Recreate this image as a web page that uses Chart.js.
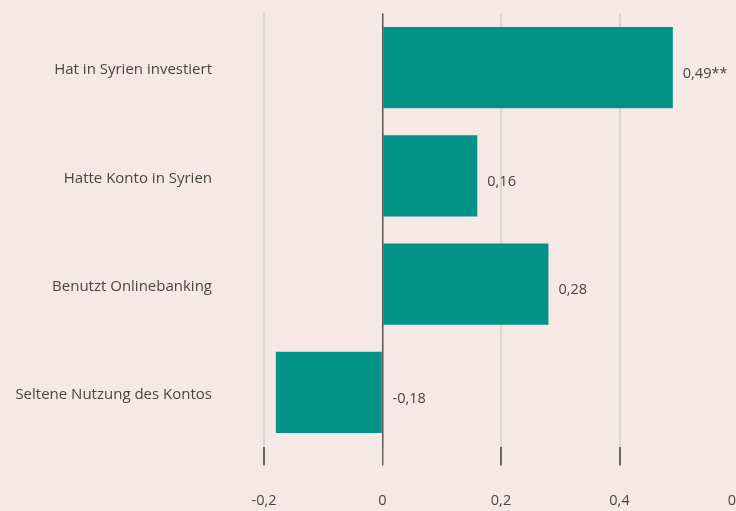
<!DOCTYPE html>
<html><head><meta charset="utf-8">
<script src="https://cdn.jsdelivr.net/npm/chart.js@4/dist/chart.umd.min.js"></script>
<style>
html,body{margin:0;padding:0;background:#f6e8e4;overflow:hidden;width:736px;height:511px}
#wrap{position:relative;width:760px;height:511px}
</style></head><body>
<div id="wrap"><canvas id="c" width="760" height="511"></canvas></div>
<script>
const categories = ["Hat in Syrien investiert","Hatte Konto in Syrien","Benutzt Onlinebanking","Seltene Nutzung des Kontos"];
const values = [0.49, 0.16, 0.28, -0.18];
const significance = ["**", "", "", ""];
const tickValues = [-0.2, 0, 0.2, 0.4, 0.6];

const FONT = "'Open Sans', sans-serif";
const TXT = "#4a4444";
const fmt = v => v.toFixed(2).replace('.', ',').replace(/0+$/,'').replace(/,$/,'');

const valueLabels = {
  id: 'valueLabels',
  afterDatasetsDraw(chart) {
    const ctx = chart.ctx;
    const meta = chart.getDatasetMeta(0);
    const xs = chart.scales.x;
    ctx.save();
    ctx.font = "14.5px " + FONT;
    ctx.fillStyle = TXT;
    ctx.textBaseline = 'middle';
    ctx.textAlign = 'left';
    meta.data.forEach((bar, i) => {
      const v = values[i];
      const x = v >= 0 ? bar.x + 10 : xs.getPixelForValue(0) + 10;
      ctx.fillText(v.toFixed(2).replace('.', ',') + significance[i], x, bar.y + 6);
    });
    ctx.restore();
  }
};

new Chart(document.getElementById('c'), {
  type: 'bar',
  data: {
    labels: categories,
    datasets: [{
      data: values,
      backgroundColor: '#009286',
      borderWidth: 0,
      categoryPercentage: 0.75,
      barPercentage: 1
    }]
  },
  options: {
    indexAxis: 'y',
    responsive: false,
    animation: false,
    devicePixelRatio: 1,
    layout: { padding: { top: 13.5, right: 22, left: 0, bottom: 0 } },
    plugins: { legend: { display: false }, tooltip: { enabled: false } },
    scales: {
      x: {
        min: -0.2, max: 0.6,
        afterBuildTicks: s => { s.ticks = tickValues.map(v => ({ value: v })); },
        afterFit: s => { s.height = 64.5; s.paddingLeft = 0; s.paddingRight = 0; },
        border: { display: false },
        grid: {
          color: c => (c.tick && c.tick.value === 0) ? '#5a5454' : '#dcd6d3',
          lineWidth: c => (c.tick && c.tick.value === 0) ? 1.5 : 2,
          tickColor: '#6a6464',
          tickLength: 19,
          drawTicks: true
        },
        ticks: {
          padding: 27,
          color: TXT,
          font: { family: FONT, size: 14.5 },
          maxRotation: 0,
          autoSkip: false,
          callback: v => fmt(v)
        }
      },
      y: {
        afterFit: s => { s.width = 264; s.paddingTop = 0; s.paddingBottom = 0; },
        border: { display: false },
        grid: { display: false, drawTicks: false },
        ticks: {
          padding: 52,
          labelOffset: 2.5,
          color: TXT,
          font: { family: FONT, size: 15 }
        }
      }
    }
  },
  plugins: [valueLabels]
});
</script>
</body></html>
